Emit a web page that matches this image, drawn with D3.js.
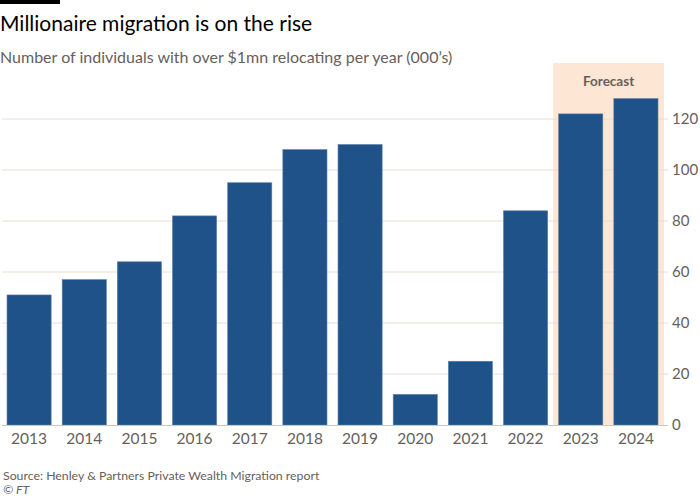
<!DOCTYPE html>
<html><head><meta charset="utf-8">
<script src="https://cdn.jsdelivr.net/npm/d3@7"></script>
<style>
body{margin:0;background:#fff;}
svg{display:block;font-family:Lato, "Noto Sans", sans-serif;}
</style></head>
<body>
<svg id="c" width="700" height="500"></svg>
<script>
const years = ["2013","2014","2015","2016","2017","2018","2019","2020","2021","2022","2023","2024"];
const values = [51,57,64,82,95,108,110,12,25,84,122,128];
const forecastYears = ["2023","2024"];
const yTicks = [0,20,40,60,80,100,120];

const svg = d3.select("#c");
const x = d3.scaleBand().domain(years).range([1.5,663.5]).paddingInner(0.2).paddingOuter(0.1);
const y = d3.scaleLinear().domain([0,120]).range([425,119]);

// top black bar
svg.append("rect").attr("x",0).attr("y",0).attr("width",60).attr("height",4).attr("fill","#000");
svg.append("text").attr("x",0).attr("y",31).attr("font-size",21).attr("fill","#000")
  .text("Millionaire migration is on the rise");
svg.append("text").attr("x",0).attr("y",63).attr("font-size",16).attr("fill","#66605c")
  .text("Number of individuals with over $1mn relocating per year (000’s)");

// forecast shading
const fx0 = x(forecastYears[0]) - x.step()*x.paddingInner()/2;
svg.append("rect").attr("x",fx0).attr("y",63).attr("width",664-fx0).attr("height",425-63)
  .attr("fill","#fde6d4");
svg.append("text").attr("x",(fx0+664)/2).attr("y",86).attr("text-anchor","middle")
  .attr("font-size",13.5).attr("font-weight",700).attr("fill","#66605c").text("Forecast");

// grid
const g = svg.append("g");
g.selectAll("line.grid").data(yTicks.filter(d=>d>0)).join("line")
  .attr("x1",2).attr("x2",668).attr("y1",d=>y(d)).attr("y2",d=>y(d))
  .attr("stroke","#eaddd3").attr("stroke-width",1);
g.selectAll("text.yt").data(yTicks).join("text")
  .attr("x",672).attr("y",d=>y(d)).attr("dy","0.35em").attr("font-size",15)
  .attr("fill","#66605c").text(d=>d);

// bars
svg.append("g").selectAll("rect").data(values).join("rect")
  .attr("x",(d,i)=>x(years[i])).attr("width",x.bandwidth())
  .attr("y",d=>y(d)).attr("height",d=>y(0)-y(d))
  .attr("fill","#1f5289").attr("stroke","#5b7ea6").attr("stroke-width",0.6);

// baseline
svg.append("line").attr("x1",2).attr("x2",668).attr("y1",y(0)+0.5).attr("y2",y(0)+0.5)
  .attr("stroke","#cfc5bd").attr("stroke-width",1.2);

// x labels
svg.append("g").selectAll("text").data(years).join("text")
  .attr("x",d=>x(d)+x.bandwidth()/2).attr("y",444).attr("text-anchor","middle")
  .attr("font-size",15.5).attr("fill","#66605c").text(d=>d);

svg.append("text").attr("x",3).attr("y",480).attr("font-size",12.3).attr("fill","#66605c")
  .text("Source: Henley & Partners Private Wealth Migration report");
svg.append("text").attr("x",3).attr("y",494).attr("font-size",12.3).attr("fill","#66605c")
  .attr("font-style","italic").text("© FT");
</script>
</body></html>
